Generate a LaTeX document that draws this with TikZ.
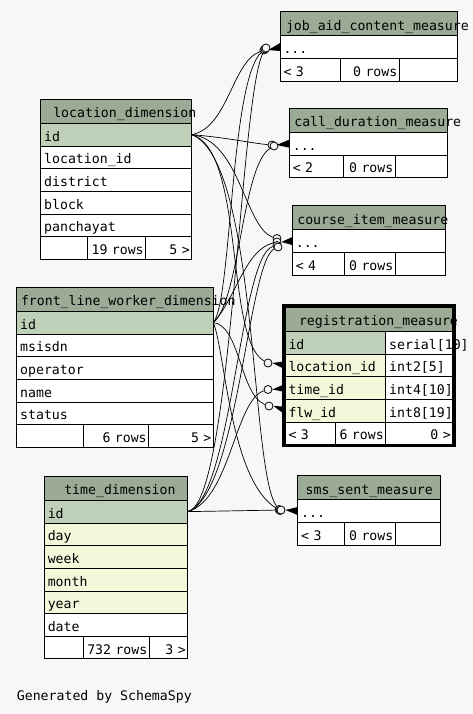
\documentclass[tikz,border=0pt]{standalone}
\usepackage{fontspec}
\setmonofont{DejaVu Sans Mono}
\usetikzlibrary{positioning}
\definecolor{bgcol}{HTML}{F7F7F7}
\definecolor{hdrcol}{HTML}{9BAB96}
\definecolor{pkcol}{HTML}{BED1B8}
\definecolor{fkcol}{HTML}{F4F7DA}
\newcommand{\erfont}{\ttfamily\fontsize{13.2}{15}\selectfont}
\tikzset{cell/.style={draw, fill=white, anchor=north west, align=left,
minimum height=22.65pt, inner ysep=0pt, inner xsep=3.5pt, outer sep=0pt,
text height=13pt, text depth=0pt, line width=0.8pt, font=\erfont},
hdr/.style={cell, fill=hdrcol, minimum height=24pt},
pk/.style={cell, fill=pkcol},
fk/.style={cell, fill=fkcol},
foot/.style={cell, align=right, inner xsep=2pt},
zero/.style={circle, draw, fill=bgcol, minimum size=8pt, inner sep=0pt, line width=0.8pt},
rel/.style={line width=0.7pt}}
\begin{document}
\begin{tikzpicture}[x=1pt, y=-1pt]
\fill[bgcol] (0,0) rectangle (473,714);
\useasboundingbox (0,0) rectangle (473,714);
\draw[line width=3pt] (283.5,305.5) rectangle (454,445.3);

\node[hdr, inner xsep=12.6pt, text width=125.8pt] (loc-h) at (40.7,99.3) {location\_dimension};
\node[pk, text width=144pt] (loc-r1) at (loc-h.south west) {id};
\node[cell, text width=144pt] (loc-r2) at (loc-r1.south west) {location\_id};
\node[cell, text width=144pt] (loc-r3) at (loc-r2.south west) {district};
\node[cell, text width=144pt] (loc-r4) at (loc-r3.south west) {block};
\node[cell, text width=144pt] (loc-r5) at (loc-r4.south west) {panchayat};
\node[foot, text width=42.6pt] (loc-f1) at (loc-r5.south west) {};
\node[foot, text width=54.4pt] (loc-f2) at (loc-f1.north east) {19 rows};
\node[foot, text width=42pt] (loc-f3) at (loc-f2.north east) {5 >};

\node[hdr, inner xsep=4.3pt, text width=188pt] (flw-h) at (16.7,287.3) {front\_line\_worker\_dimension};
\node[pk, text width=189.6pt] (flw-r1) at (flw-h.south west) {id};
\node[cell, text width=189.6pt] (flw-r2) at (flw-r1.south west) {msisdn};
\node[cell, text width=189.6pt] (flw-r3) at (flw-r2.south west) {operator};
\node[cell, text width=189.6pt] (flw-r4) at (flw-r3.south west) {name};
\node[cell, text width=189.6pt] (flw-r5) at (flw-r4.south west) {status};
\node[foot, text width=62.6pt] (flw-f1) at (flw-r5.south west) {};
\node[foot, text width=61.4pt] (flw-f2) at (flw-f1.north east) {6 rows};
\node[foot, text width=60.6pt] (flw-f3) at (flw-f2.north east) {5 >};

\node[hdr, inner xsep=20pt, text width=103.4pt] (tim-h) at (44.3,476.3) {time\_dimension};
\node[pk, text width=136.4pt] (tim-r1) at (tim-h.south west) {id};
\node[fk, text width=136.4pt] (tim-r2) at (tim-r1.south west) {day};
\node[fk, text width=136.4pt] (tim-r3) at (tim-r2.south west) {week};
\node[fk, text width=136.4pt] (tim-r4) at (tim-r3.south west) {month};
\node[fk, text width=136.4pt] (tim-r5) at (tim-r4.south west) {year};
\node[cell, text width=136.4pt] (tim-r6) at (tim-r5.south west) {date};
\node[foot, text width=35pt] (tim-f1) at (tim-r6.south west) {};
\node[foot, text width=62pt] (tim-f2) at (tim-f1.north east) {732 rows};
\node[foot, text width=34.4pt] (tim-f3) at (tim-f2.north east) {3 >};

\node[hdr, inner xsep=6pt, text width=165.3pt] (jac-h) at (280,11.7) {job\_aid\_content\_measure};
\node[cell, text width=170.3pt] (jac-r1) at (jac-h.south west) {...};
\node[cell, text width=53.3pt] (jac-f1) at (jac-r1.south west) {< 3};
\node[foot, text width=55pt] (jac-f2) at (jac-f1.north east) {0 rows};
\node[foot, text width=54pt] (jac-f3) at (jac-f2.north east) {};

\node[hdr, inner xsep=5pt, text width=148pt] (cdm-h) at (289.3,108.3) {call\_duration\_measure};
\node[cell, text width=151pt] (cdm-r1) at (cdm-h.south west) {...};
\node[cell, text width=47pt] (cdm-f1) at (cdm-r1.south west) {< 2};
\node[foot, text width=48pt] (cdm-f2) at (cdm-f1.north east) {0 rows};
\node[foot, text width=48pt] (cdm-f3) at (cdm-f2.north east) {};

\node[hdr, inner xsep=5pt, text width=143pt] (cim-h) at (292.3,205.7) {course\_item\_measure};
\node[cell, text width=146pt] (cim-r1) at (cim-h.south west) {...};
\node[cell, text width=45pt] (cim-f1) at (cim-r1.south west) {< 4};
\node[foot, text width=47pt] (cim-f2) at (cim-f1.north east) {0 rows};
\node[foot, text width=46pt] (cim-f3) at (cim-f2.north east) {};

\node[hdr, inner xsep=14pt, text width=139.7pt] (reg-h) at (285,307.3) {registration\_measure};
\node[pk, text width=93.7pt] (reg-n1) at (reg-h.south west) {id};
\node[cell, text width=60pt] (reg-t1) at (reg-n1.north east) {serial[10]};
\node[fk, text width=93.7pt] (reg-n2) at (reg-n1.south west) {location\_id};
\node[cell, text width=60pt] (reg-t2) at (reg-n2.north east) {int2[5]};
\node[fk, text width=93.7pt] (reg-n3) at (reg-n2.south west) {time\_id};
\node[cell, text width=60pt] (reg-t3) at (reg-n3.north east) {int4[10]};
\node[fk, text width=93.7pt] (reg-n4) at (reg-n3.south west) {flw\_id};
\node[cell, text width=60pt] (reg-t4) at (reg-n4.north east) {int8[19]};
\node[cell, text width=43.3pt] (reg-f1) at (reg-n4.south west) {< 3};
\node[foot, text width=46.4pt] (reg-f2) at (reg-f1.north east) {6 rows};
\node[foot, text width=63pt] (reg-f3) at (reg-f2.north east) {0 >};

\node[hdr, inner xsep=8pt, text width=126.3pt] (sms-h) at (297.7,475.7) {sms\_sent\_measure};
\node[cell, text width=135.3pt] (sms-r1) at (sms-h.south west) {...};
\node[cell, text width=39.6pt] (sms-f1) at (sms-r1.south west) {< 3};
\node[foot, text width=47pt] (sms-f2) at (sms-f1.north east) {0 rows};
\node[foot, text width=40.7pt] (sms-f3) at (sms-f2.north east) {};

\node[font=\erfont, anchor=west, inner sep=0pt] (gen) at (16.7,696.7) {Generated by SchemaSpy};

\node[zero] (jac-o1) at (264,50) {};
\node[zero] (jac-o2) at (265,49) {};
\node[zero] (jac-o3) at (266,48) {};
\node[zero] (cdm-o1) at (272,145) {};
\node[zero] (cdm-o2) at (274,146) {};
\node[zero] (cim-o1) at (277,238.5) {};
\node[zero] (cim-o2) at (277,242) {};
\node[zero] (cim-o3) at (277,245.5) {};
\node[zero] (cim-o4) at (278,247) {};
\node[zero] (reg-o1) at (268,363) {};
\node[zero] (reg-o2) at (268,389.5) {};
\node[zero] (reg-o3) at (269,406) {};
\node[zero] (sms-o1) at (279,509.5) {};
\node[zero] (sms-o2) at (280,510.5) {};
\node[zero] (sms-o3) at (281,510) {};

\draw[rel] (loc-r1.east) .. controls (228,128) and (232,62) .. (jac-o1);
\draw[rel] (flw-r1.east) .. controls (232,300) and (230,80) .. (jac-o2);
\draw[rel] (tim-r1.east) .. controls (232,505) and (240,90) .. (jac-o3);
\draw[rel] (loc-r1.east) .. controls (230,138) and (250,143) .. (cdm-o1);
\draw[rel] (flw-r1.east) .. controls (240,300) and (242,165) .. (cdm-o2);
\draw[rel] (loc-r1.east) .. controls (240,140) and (245,228) .. (cim-o1);
\draw[rel] (flw-r1.east) .. controls (235,300) and (245,250) .. (cim-o2);
\draw[rel] (tim-r1.east) .. controls (232,500) and (240,255) .. (cim-o3);
\draw[rel] (tim-r1.east) .. controls (238,495) and (248,262) .. (cim-o4);
\draw[rel] (loc-r1.east) .. controls (245,150) and (225,340) .. (reg-o1);
\draw[rel] (tim-r1.east) .. controls (230,500) and (235,400) .. (reg-o2);
\draw[rel] (flw-r1.east) .. controls (240,325) and (240,395) .. (reg-o3);
\draw[rel] (loc-r1.east) .. controls (258,160) and (250,470) .. (sms-o1);
\draw[rel] (flw-r1.east) .. controls (225,350) and (230,480) .. (sms-o2);
\draw[rel] (tim-r1.east) -- (sms-o3);

\foreach \o/\r in {jac-o1/jac-r1, cdm-o1/cdm-r1, cim-o2/cim-r1, reg-o1/reg-n2,
  reg-o2/reg-n3, reg-o3/reg-n4, sms-o3/sms-r1}
  \fill (\o.east) -- ([yshift=4pt]\r.west) -- ([yshift=-4pt]\r.west) -- cycle;
\end{tikzpicture}
\end{document}
